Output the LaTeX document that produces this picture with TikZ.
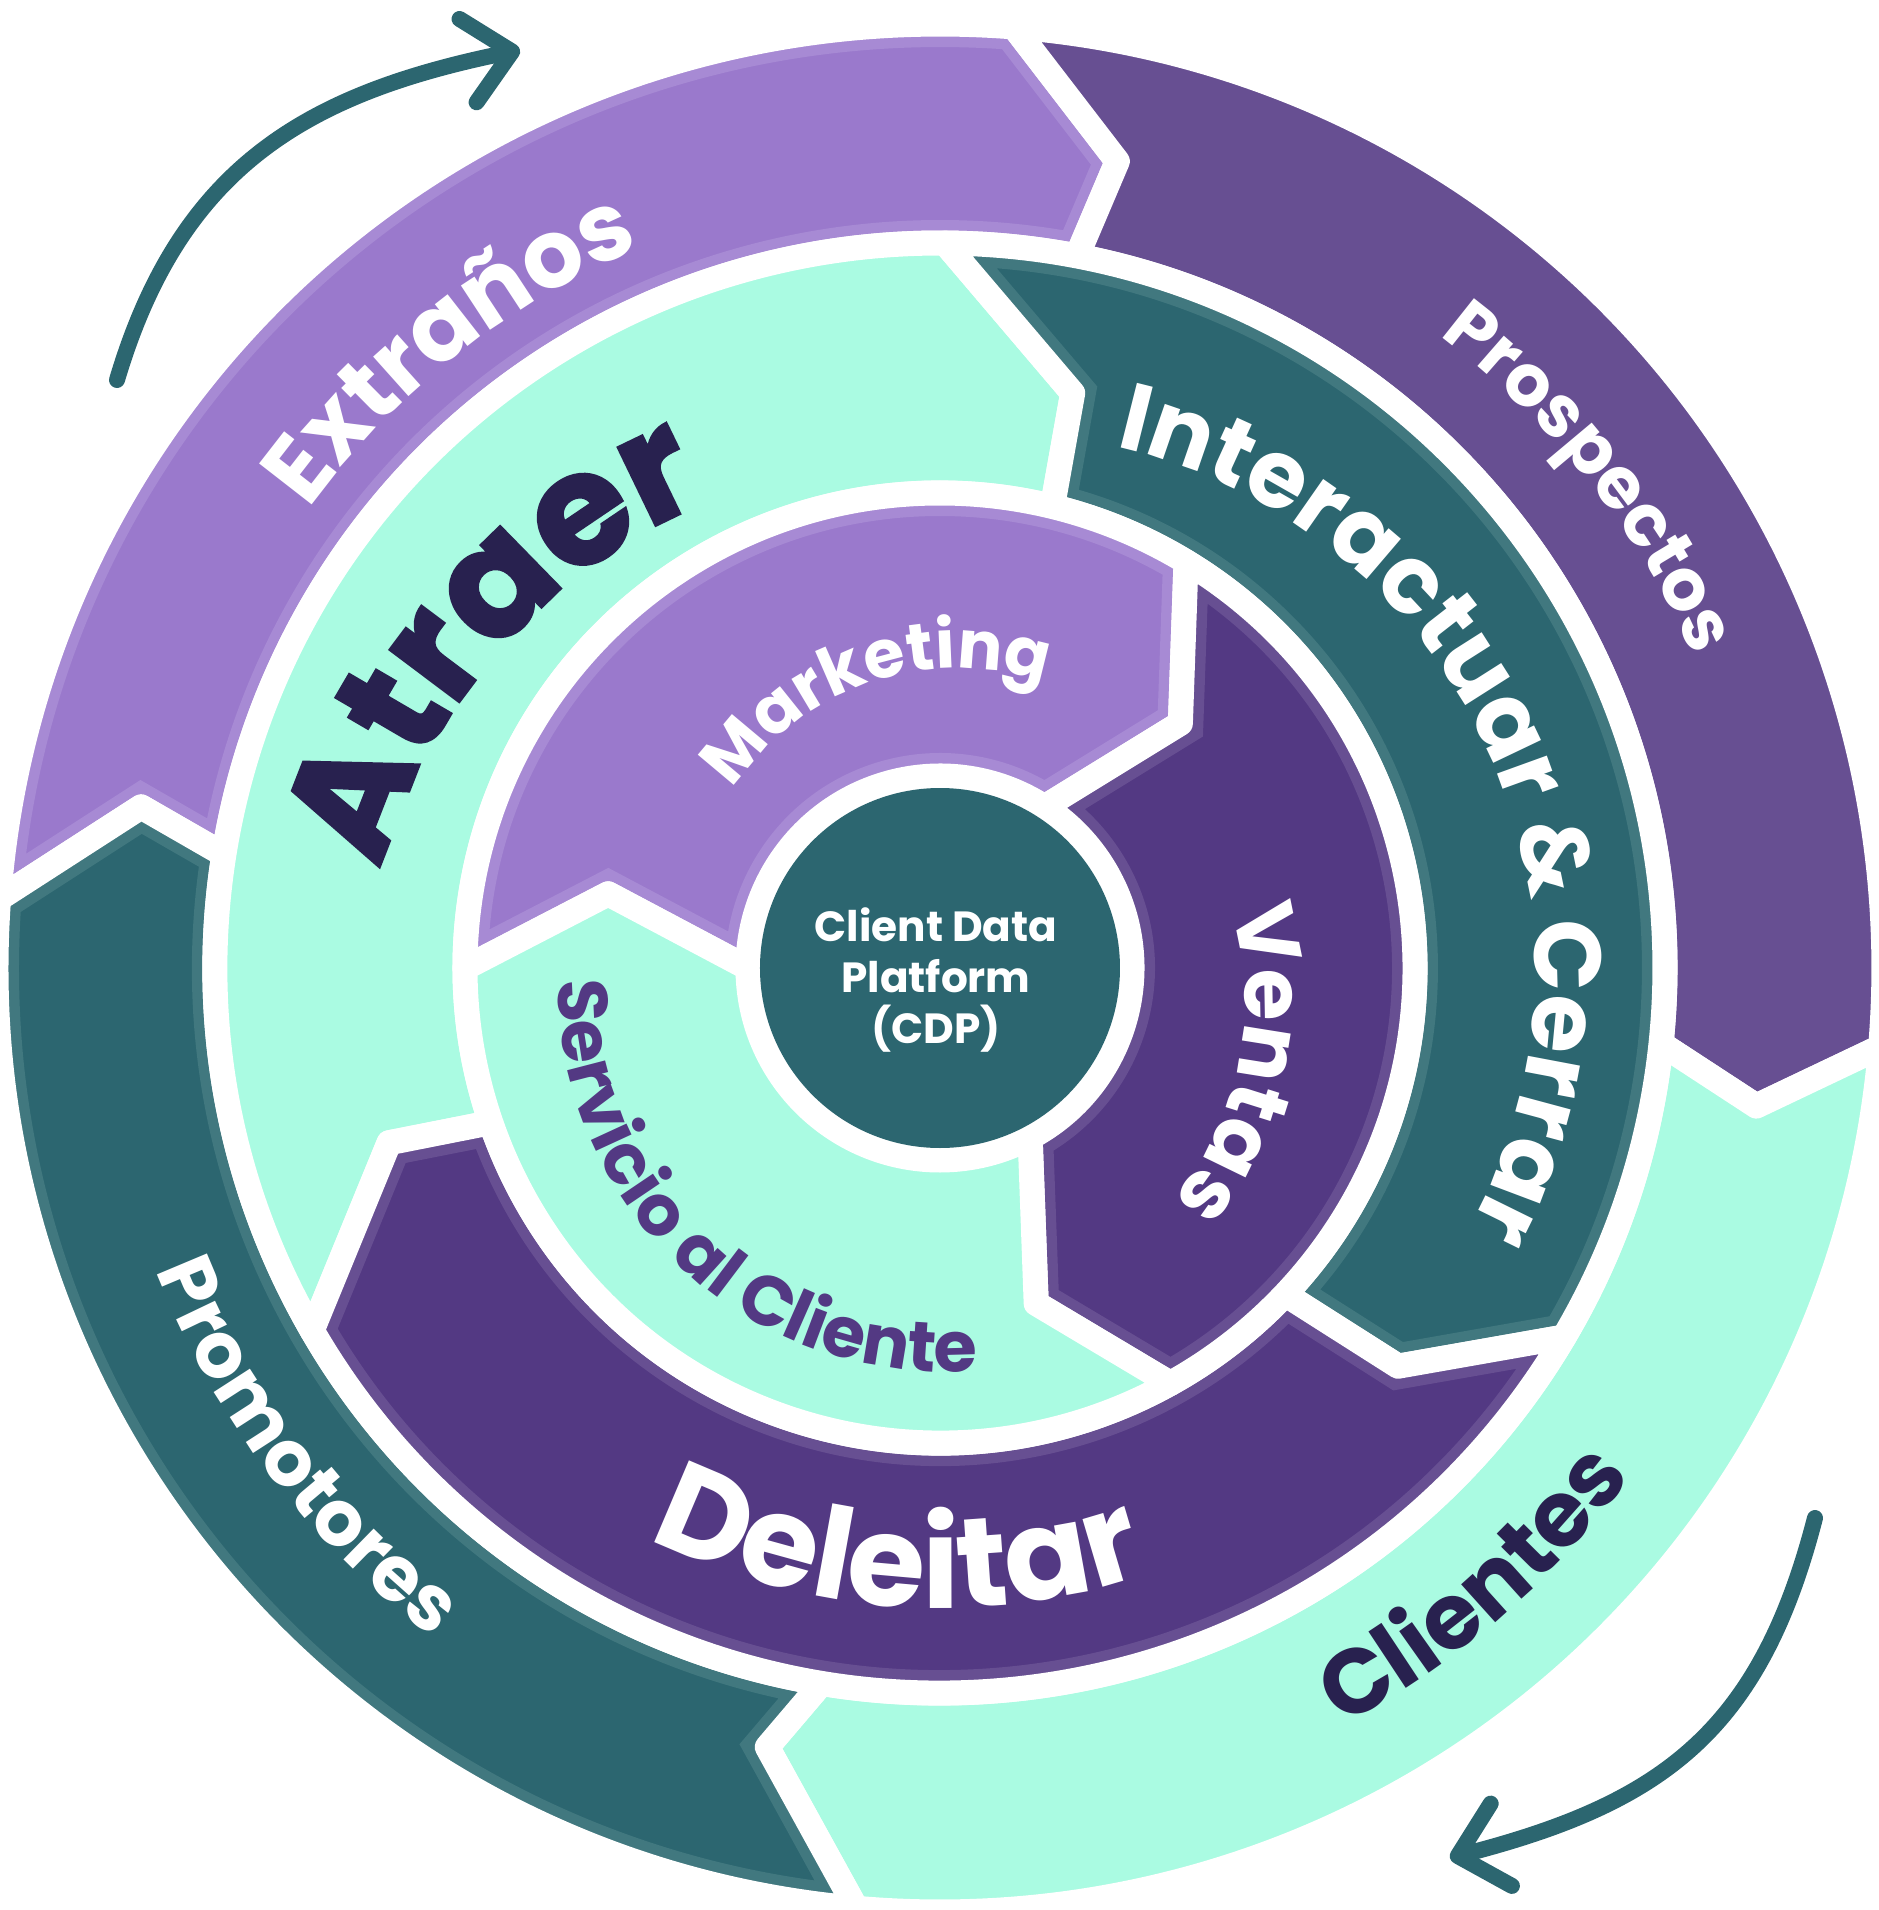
\documentclass[tikz,border=0pt]{standalone}
\usepackage{fontspec}
\setmainfont{Poppins}
\newfontfamily\heavyfont{Poppins}[BoldFeatures={FakeBold=2}]
\usetikzlibrary{arrows.meta,decorations.text,positioning}

\definecolor{lilac}{HTML}{9A79CC}
\definecolor{lilacrim}{HTML}{A78AD4}
\definecolor{plum}{HTML}{674F92}
\definecolor{grape}{HTML}{533983}
\definecolor{graperim}{HTML}{674F92}
\definecolor{deepteal}{HTML}{2C6670}
\definecolor{tealrim}{HTML}{41787F}
\definecolor{mint}{HTML}{AAFBE2}
\definecolor{ink}{HTML}{28214F}

\newcommand{\ringfont}[1]{\bfseries\fontsize{#1}{#1}\selectfont}
% one arrow piece of a ring: fill, brushed rim, white cut
\newcommand{\ringpart}[3]{%
  \fill[#1] #3;
  \begin{scope}\clip #3; \draw[#2, line width=4.6mm] #3; \end{scope}
  \draw[part] #3;
}

\tikzset{
  part/.style={draw=white, line width=2.5mm, line join=round},
  turn/.style={draw=deepteal, line width=1.6mm, line cap=round,
    -{Straight Barb[round,length=4.5mm,width=8.5mm]}},
  arclabel/.style={decorate, decoration={text along path, text align=center, text={#1}}},
  core/.style={circle, fill=deepteal, minimum size=3.6cm, inner sep=0pt},
}

\begin{document}
\begin{tikzpicture}
\useasboundingbox (-9.40,-9.42) rectangle (9.39,9.68);

% outer ring
\ringpart{lilac}{lilacrim}{(175.8:9.44) arc[start angle=175.8, end angle=85.5, radius=9.44]
  -- (77.6:8.26) -- (79.1:7.25) arc[start angle=79.1, end angle=171, radius=7.25] -- (168.6:8.15) -- cycle}
\ringpart{plum}{plum}{(85.5:9.44) arc[start angle=85.5, end angle=-4.8, radius=9.44]
  -- (-9.6:8.28) -- (-6:7.25) arc[start angle=-6, end angle=79.1, radius=7.25] -- (77.6:8.26) -- cycle}
\ringpart{mint}{mint}{(-4.8:9.44) arc[start angle=-4.8, end angle=-95.1, radius=9.44]
  -- (-102.5:7.98) -- (-99.4:7.25) arc[start angle=-99.4, end angle=-6, radius=7.25] -- (-9.6:8.28) -- cycle}
\ringpart{deepteal}{tealrim}{(-95.1:9.44) arc[start angle=-95.1, end angle=-184.2, radius=9.44]
  -- (-191.4:8.15) -- (-189:7.25) arc[start angle=-189, end angle=-99.4, radius=7.25] -- (-102.5:7.98) -- cycle}

% middle ring
\ringpart{mint}{mint}{(210:7.25) arc[start angle=210, end angle=89.6, radius=7.25]
  -- (77:5.90) -- (76.3:4.75) arc[start angle=76.3, end angle=199, radius=4.75] -- (197.6:5.78) -- cycle}
\ringpart{deepteal}{tealrim}{(89.6:7.25) arc[start angle=89.6, end angle=-30.6, radius=7.25]
  -- (-41:6.07) -- (-43.4:4.75) arc[start angle=-43.4, end angle=76.3, radius=4.75] -- (77:5.90) -- cycle}
\ringpart{grape}{graperim}{(-30.6:7.25) arc[start angle=-30.6, end angle=-150, radius=7.25]
  -- (-162.4:5.78) -- (-161:4.75) arc[start angle=-161, end angle=-43.4, radius=4.75] -- (-41:6.07) -- cycle}

% inner ring
\ringpart{lilac}{lilacrim}{(180:4.75) arc[start angle=180, end angle=58.8, radius=4.75]
  -- (45.5:3.43) -- (57:1.92) arc[start angle=57, end angle=180, radius=1.92] -- (167.4:3.40) -- cycle}
\ringpart{grape}{graperim}{(58.8:4.75) arc[start angle=58.8, end angle=-61, radius=4.75]
  -- (-74:3.49) -- (-62:1.92) arc[start angle=-62, end angle=57, radius=1.92] -- (45.5:3.43) -- cycle}
\ringpart{mint}{mint}{(-61:4.75) arc[start angle=-61, end angle=-180, radius=4.75]
  -- (-192.6:3.40) -- (-180:1.92) arc[start angle=-180, end angle=-62, radius=1.92] -- (-74:3.49) -- cycle}

% centre
\node[core] (cdp) at (0,0) {};
\node[align=center, text=white, font=\bfseries\fontsize{12}{14.5}\selectfont] (cdptext)
  at ([shift={(-0.04,-0.12)}]cdp.center) {Client Data\\Platform\\(CDP)};

% labels, outer ring
\path[arclabel={|\color{white}\ringfont{27}|Extraños}] (168.3:7.8) arc[start angle=168.3, end angle=88.3, radius=7.8];
\path[arclabel={|\color{white}\ringfont{20.5}|Prospectos}, shift={(0.17,-0.13)}] (78.5:8.05) arc[start angle=78.5, end angle=-1.5, radius=8.05];
\path[arclabel={|\color{ink}\ringfont{26}|Clientes}] (-89.2:8.58) arc[start angle=-89.2, end angle=-9.2, radius=8.58];
\path[arclabel={|\color{white}\ringfont{22}|Promotores}] (177:8.4) arc[start angle=177, end angle=257, radius=8.4];

% labels, middle ring
\path[arclabel={|\color{ink}\heavyfont\ringfont{44}|Atraer}, shift={(-0.19,-0.51)}] (188.5:5.6) arc[start angle=188.5, end angle=88.5, radius=5.6];
\path[arclabel={|\color{white}\ringfont{27}|Interactuar {\&} Cerrar}, shift={(0.58,-0.03)}] (99.5:5.37) arc[start angle=99.5, end angle=-50.5, radius=5.37];
\path[arclabel={|\color{white}\ringfont{36}|Deleitar}] (215.9:6.4) arc[start angle=215.9, end angle=315.9, radius=6.4];

% labels, inner ring
\path[arclabel={|\color{white}\ringfont{19}|Marketing}, shift={(0.18,0.30)}] (168.9:2.7) arc[start angle=168.9, end angle=48.9, radius=2.7];
\path[arclabel={|\color{white}\ringfont{24}|Ventas}, shift={(-0.05,-0.33)}] (43.6:3.1) arc[start angle=43.6, end angle=-66.4, radius=3.1];
\path[arclabel={|\color{grape}\ringfont{20}|Servicio al Cliente}, shift={(0.06,-0.16)}] (167.1:3.88) arc[start angle=167.1, end angle=287.1, radius=3.88];

% turning arrows
\coordinate (spinA0) at (-8.23,5.88);
\coordinate (spinA1) at (-4.20,9.18);
\draw[turn] (spinA0) .. controls (-7.6,8.0) and (-6.35,8.74) .. (spinA1);
\coordinate (spinB0) at (8.75,-5.50);
\coordinate (spinB1) at (5.10,-8.90);
\draw[turn] (spinB0) .. controls (8.2,-7.63) and (7.23,-8.35) .. (spinB1);
\end{tikzpicture}
\end{document}
